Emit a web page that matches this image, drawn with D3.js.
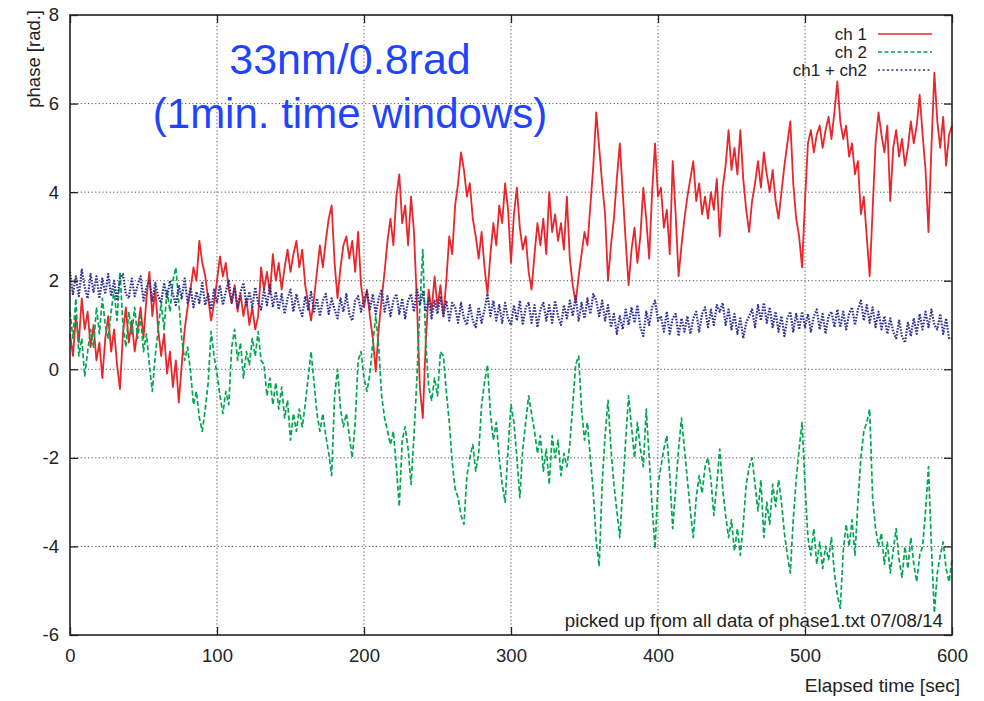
<!DOCTYPE html>
<html><head><meta charset="utf-8">
<script src="https://cdn.jsdelivr.net/npm/d3@7"></script>
<style>body{margin:0;background:#fff}svg{display:block}text{font-family:"Liberation Sans",Arial,Helvetica,sans-serif}</style>
</head><body><svg id="c" width="984" height="701"></svg>
<script>
// sample spacing in seconds (values below are read every 2 s)
const timeStep = 2;
const ch1 = [
0.8,0.3,1.2,0.6,1.6,0.9,1.3,0.5,1.0,0.2,0.6,
-0.2,0.7,1.2,0.4,0.9,0.1,-0.45,0.8,1.4,0.6,
1.1,0.4,0.9,1.4,0.7,1.6,2.2,1.2,1.8,0.9,
0.3,0.8,-0.1,0.4,-0.4,0.2,-0.75,0.1,0.9,1.4,
1.8,2.3,2.0,2.9,2.4,2.1,1.6,1.1,1.5,2.0,
2.55,2.1,2.4,1.8,1.5,1.9,1.3,1.7,1.2,1.6,
1.0,1.4,0.9,1.2,2.3,1.8,2.2,1.7,2.6,2.0,
2.4,1.8,2.3,2.7,2.2,2.6,2.9,2.3,2.7,1.9,
1.5,1.1,1.6,2.2,2.8,2.3,2.9,3.4,3.7,2.4,
1.6,2.3,2.8,3.0,2.5,2.9,2.2,3.1,1.9,1.4,
1.8,1.2,0.7,-0.05,0.9,1.6,2.2,2.9,3.4,2.8,
3.9,4.4,3.3,3.7,2.8,3.9,3.1,1.5,-0.4,-1.1,
0.6,1.8,1.3,2.1,1.4,1.9,1.2,2.0,3.0,2.6,
3.7,4.2,4.9,4.5,3.9,4.2,3.4,3.0,2.5,3.1,
2.3,1.7,2.6,3.3,2.8,3.7,3.3,4.2,3.6,2.4,
3.5,4.1,3.2,2.7,3.0,2.2,1.8,2.6,3.3,2.8,
3.4,2.6,4.0,3.1,3.5,2.9,3.3,2.7,3.9,2.5,
1.9,1.5,2.1,2.6,3.1,2.8,3.7,4.6,5.8,5.0,
4.2,3.5,2.0,2.8,3.4,4.3,5.1,4.0,2.9,1.9,
2.7,3.2,2.4,3.0,4.1,3.4,2.5,4.0,5.1,3.9,
4.1,3.2,3.6,2.6,4.7,3.5,2.1,2.8,3.4,3.9,
4.3,4.7,3.8,4.2,3.5,3.9,3.4,4.0,3.6,4.3,
3.0,4.1,4.6,5.4,4.5,5.0,4.4,5.4,4.3,3.6,
3.1,3.8,4.2,4.7,4.1,4.9,4.4,4.0,4.5,3.8,
3.4,4.0,4.6,5.1,5.6,4.2,3.4,3.0,2.3,3.8,
5.1,5.4,4.9,5.3,5.5,5.0,5.4,5.7,5.2,5.8,
6.5,5.6,5.2,5.5,4.8,5.1,4.4,4.7,3.5,3.9,
3.0,2.1,3.6,5.1,5.8,5.3,4.9,5.5,3.8,5.0,
5.4,4.8,5.2,4.6,5.0,5.6,5.1,5.5,6.2,5.3,
4.5,3.1,5.0,6.7,5.6,5.0,5.7,4.6,5.3,5.5
];
const ch2 = [
1.3,0.7,1.6,0.3,0.7,-0.15,0.4,0.9,0.5,1.4,0.8,
1.6,1.0,0.7,1.3,1.8,1.1,2.2,1.0,0.5,1.3,
0.8,1.4,0.7,1.2,0.4,0.8,0.1,-0.5,0.3,0.9,
1.5,0.9,1.8,1.3,2.0,2.3,1.5,0.7,0.2,0.5,
-0.05,-0.8,-0.5,-1.1,-1.4,-0.9,-0.3,0.85,0.3,-0.1,
-0.6,-1.0,-0.5,-0.8,0.5,0.9,0.2,0.6,-0.2,0.4,
0.1,0.7,0.3,0.85,0.2,0.1,-0.6,-0.2,-0.8,-0.3,
-0.9,-0.4,-1.1,-0.7,-1.6,-1.0,-1.4,-0.9,-1.3,-0.8,
-0.2,0.4,-0.3,-1.0,-1.4,-1.0,-1.5,-1.9,-2.4,-0.6,
0.0,-0.9,-1.3,-1.0,-1.5,-2.0,-1.2,0.2,0.4,-0.2,
-0.5,-0.1,0.6,1.2,0.5,-0.6,-1.1,-1.4,-1.7,-1.4,
-2.2,-3.1,-1.6,-1.3,-1.8,-2.6,-1.5,-0.2,1.4,2.7,
0.6,-0.4,-0.7,-0.2,-0.6,0.4,0.3,-0.5,-1.2,-2.1,
-2.7,-2.9,-3.3,-3.5,-2.4,-2.0,-1.7,-2.3,-1.9,-0.8,
-0.3,0.1,-1.0,-1.6,-1.2,-2.0,-2.6,-3.0,-1.8,-0.8,
-1.2,-2.0,-2.9,-1.8,-1.2,-0.6,-1.0,-1.4,-1.9,-1.5,
-2.3,-1.8,-2.6,-1.5,-2.0,-1.6,-2.4,-1.9,-2.2,-1.7,
-0.8,0.1,0.3,-0.9,-1.6,-1.2,-2.0,-2.8,-3.9,-4.45,
-2.6,-1.5,-0.7,-1.8,-2.6,-3.2,-3.8,-2.7,-1.6,-0.6,
-1.3,-2.0,-1.2,-1.8,-2.2,-0.9,-2.0,-3.1,-4.05,-2.6,
-2.2,-1.8,-1.5,-2.4,-3.6,-2.7,-1.8,-1.1,-1.8,-2.5,
-3.2,-3.8,-2.9,-2.4,-2.8,-2.2,-2.0,-2.5,-3.3,-2.6,
-1.8,-2.7,-3.3,-3.8,-3.4,-4.1,-3.6,-4.2,-3.5,-2.6,
-2.2,-2.0,-2.6,-3.2,-2.5,-3.8,-3.0,-3.5,-2.6,-3.1,
-2.5,-3.0,-3.7,-4.2,-4.6,-3.4,-2.5,-1.8,-1.2,-2.6,
-3.8,-4.2,-3.6,-4.4,-3.9,-4.5,-4.0,-4.3,-3.8,-4.6,
-5.1,-5.4,-4.1,-3.5,-4.0,-3.4,-4.2,-3.0,-2.0,-1.4,
-1.2,-0.9,-2.9,-3.6,-4.0,-3.7,-4.4,-3.9,-4.6,-4.1,
-3.6,-4.3,-4.7,-4.0,-4.5,-3.8,-4.4,-4.8,-4.2,-4.0,
-3.2,-2.2,-4.0,-5.5,-4.6,-4.2,-3.9,-4.5,-4.8,-4.3
];
const chSum = [
2.20,1.70,2.10,1.65,2.25,1.85,1.60,2.15,1.75,2.10,1.60,
2.05,1.70,2.15,1.65,2.00,1.55,2.05,2.15,1.70,1.60,
2.05,1.65,1.90,2.10,1.55,1.85,2.00,1.55,1.95,1.65,
1.50,1.95,1.60,2.00,1.70,1.45,1.90,1.60,2.05,1.50,
1.85,1.40,1.75,1.50,1.95,1.45,1.70,1.35,1.80,1.50,
1.90,1.45,1.75,2.00,1.50,1.85,1.40,1.75,1.95,1.45,
1.75,1.40,1.85,1.50,1.35,1.80,1.45,1.90,1.40,1.75,
1.35,1.70,1.25,1.60,1.80,1.30,1.70,1.40,1.20,1.65,
1.35,1.75,1.30,1.60,1.20,1.55,1.70,1.25,1.60,1.35,
1.15,1.60,1.30,1.70,1.25,1.10,1.55,1.65,1.30,1.60,
1.75,1.35,1.70,1.25,1.60,1.80,1.30,1.65,1.20,1.55,
1.70,1.25,1.60,1.15,1.55,1.70,1.30,1.80,1.45,1.75,
1.30,1.60,1.15,1.55,1.25,1.65,1.20,1.55,1.10,1.50,
1.40,1.05,1.50,1.15,1.00,1.45,1.10,0.95,1.40,1.05,
1.35,1.70,1.20,1.55,1.10,1.45,1.05,1.50,1.15,1.00,
1.45,1.10,1.55,1.00,1.40,1.50,1.05,1.45,0.95,1.35,
1.50,1.10,1.45,1.05,1.55,1.20,1.00,1.45,1.15,1.55,
1.20,1.65,1.10,1.50,1.15,1.60,1.25,1.70,1.55,1.20,
1.55,1.10,1.45,0.95,1.25,0.80,1.20,0.90,1.35,1.00,
1.40,1.05,1.45,0.95,0.75,1.30,1.00,1.40,1.55,1.10,
1.20,0.85,1.30,0.80,1.15,1.25,0.75,1.15,0.85,1.20,
0.80,1.15,1.30,0.85,1.25,1.40,0.95,1.35,1.00,1.45,
1.30,1.50,1.00,1.35,0.90,1.25,0.80,1.15,0.70,1.05,
1.20,1.35,0.95,1.45,1.10,1.50,1.05,1.40,0.95,1.30,
0.85,1.20,0.75,1.15,1.30,0.85,1.25,0.90,1.30,0.95,
1.25,0.85,1.20,1.35,0.90,1.25,0.80,1.20,1.30,0.95,
1.35,0.95,1.30,0.90,1.25,1.40,1.00,1.35,1.55,1.10,
1.45,1.05,1.40,0.95,1.30,0.90,1.20,0.80,1.15,0.85,
0.70,1.10,0.75,0.60,1.05,0.75,1.15,0.80,1.25,0.90,
1.30,0.95,1.35,1.00,0.90,1.25,0.80,1.15,0.70,0.70
];
const seriesNames = ["ch 1", "ch 2", "ch1 + ch2"];
const xTicks = [0, 100, 200, 300, 400, 500, 600];
const yTicks = [-6, -4, -2, 0, 2, 4, 6, 8];
const titleLines = ["33nm/0.8rad", "(1min. time windows)"];
const xLabel = "Elapsed time [sec]";
const yLabel = "phase [rad.]";
const note = "picked up from all data of phase1.txt 07/08/14";

const svg = d3.select("#c");
const L = 70, R = 952, T = 15, B = 635;
const x = d3.scaleLinear().domain([0, 600]).range([L, R]);
const y = d3.scaleLinear().domain([-6, 8]).range([B, T]);
const ink = "#222";

// grid
const grid = svg.append("g").attr("stroke", "#555").attr("stroke-width", 1).attr("stroke-dasharray", "1.2,2.4");
grid.selectAll(".gx").data(xTicks.slice(1, -1)).join("line")
  .attr("x1", d => x(d)).attr("x2", d => x(d)).attr("y1", T).attr("y2", B);
grid.selectAll(".gy").data(yTicks.slice(1, -1)).join("line")
  .attr("x1", L).attr("x2", R).attr("y1", d => y(d)).attr("y2", d => y(d));

// series
const times = ch1.map((_, i) => i * timeStep);
const line = arr => d3.line().x((d, i) => x(times[i])).y(d => y(d))(arr);
const styles = [
  {data: ch1, color: "#e8262b", dash: null, w: 1.8},
  {data: ch2, color: "#00a651", dash: "5,2.5", w: 1.7},
  {data: chSum, color: "#2e3192", dash: "1.6,1.4", w: 2.2}
];
const plot = svg.append("g");
styles.forEach(s => {
  plot.append("path").attr("d", line(s.data)).attr("fill", "none")
    .attr("stroke", s.color).attr("stroke-width", s.w)
    .attr("stroke-linejoin", "round")
    .attr("stroke-dasharray", s.dash);
});

// axes
const fmt = d => String(d);
const ax = (g, fn) => g.call(fn).call(g => g.select(".domain").remove())
  .call(g => g.selectAll("line").attr("stroke", ink).attr("stroke-width", 1.3))
  .call(g => g.selectAll("text").attr("font-size", 18.5).attr("fill", ink).attr("font-family", '"Liberation Sans", Arial, sans-serif'));
ax(svg.append("g").attr("transform", `translate(${L},0)`), d3.axisLeft(y).tickValues(yTicks).tickSize(-8).tickPadding(11).tickFormat(fmt));
ax(svg.append("g").attr("transform", `translate(0,${B})`), d3.axisBottom(x).tickValues(xTicks).tickSize(-8).tickPadding(14).tickFormat(fmt));
ax(svg.append("g").attr("transform", `translate(${R},0)`), d3.axisRight(y).tickValues(yTicks).tickSize(-8).tickFormat(""));
ax(svg.append("g").attr("transform", `translate(0,${T})`), d3.axisTop(x).tickValues(xTicks).tickSize(-8).tickFormat(""));

svg.append("rect").attr("x", L).attr("y", T).attr("width", R - L).attr("height", B - T)
  .attr("fill", "none").attr("stroke", ink).attr("stroke-width", 1.6);

// labels
svg.append("text").attr("x", 960).attr("y", 692).attr("text-anchor", "end")
  .attr("font-size", 19).attr("fill", ink).text(xLabel);
svg.append("text").attr("transform", "translate(40,10) rotate(-90)").attr("text-anchor", "end")
  .attr("font-size", 18.5).attr("fill", ink).text(yLabel);
svg.append("text").attr("x", 943).attr("y", 627).attr("text-anchor", "end")
  .attr("font-size", 18.7).attr("fill", ink).text(note);

// title
svg.selectAll(".title").data(titleLines).join("text")
  .attr("x", 350).attr("y", (d, i) => i === 0 ? 74 : 128)
  .attr("text-anchor", "middle").attr("font-size", (d, i) => i === 0 ? 43 : 42)
  .attr("fill", "#1f44ff").text(d => d);

// legend
const lg = svg.append("g");
seriesNames.forEach((n, i) => {
  const yy = 40 + i * 18;
  lg.append("text").attr("x", 867).attr("y", yy).attr("text-anchor", "end")
    .attr("font-size", 17).attr("fill", ink).text(n);
  lg.append("line").attr("x1", 878).attr("x2", 932).attr("y1", yy - 6).attr("y2", yy - 6)
    .attr("stroke", styles[i].color).attr("stroke-width", 1.3)
    .attr("stroke-dasharray", i === 0 ? null : (i === 1 ? "4,2.5" : "2,2.5"));
});
</script></body></html>
